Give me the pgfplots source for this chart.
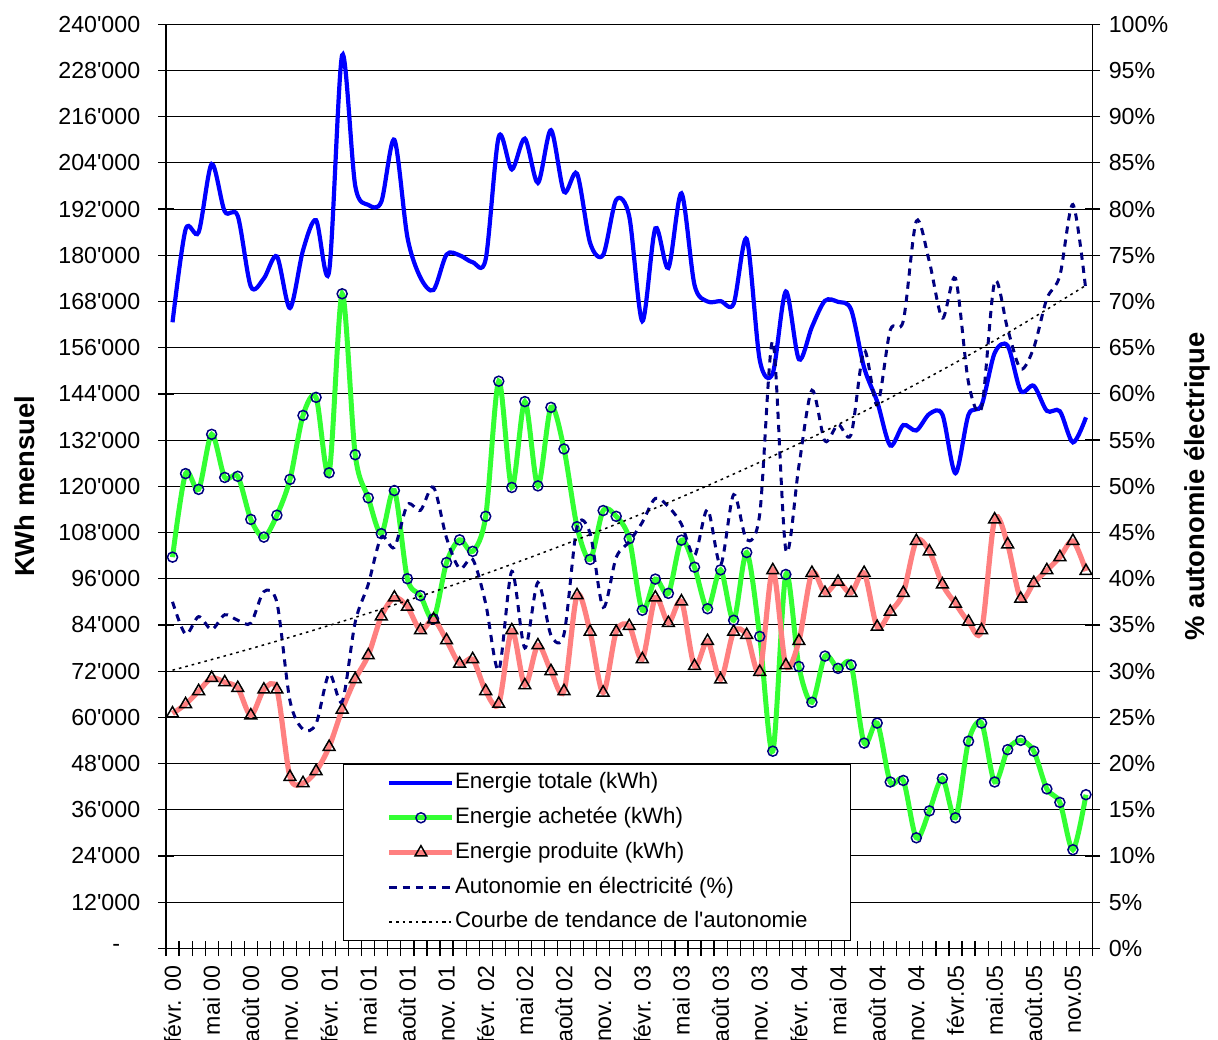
\documentclass[border=0pt]{standalone}
\usepackage{pgfplots}
\pgfplotsset{compat=1.18}
\usepackage{pgfplotstable}
\usepackage{fontspec}
\setmainfont{Liberation Sans}
\definecolor{cgreen}{RGB}{51,255,51}
\definecolor{cred}{RGB}{255,128,128}
\definecolor{cnavy}{RGB}{0,0,128}
\newcommand{\q}{\textquotesingle}

\pgfplotstableread{
t ach prod tot aut
0 101600 61000 162600 37.5
1 123300 63400 186700 34.0
2 119200 66800 186000 35.9
3 133500 70200 203700 34.5
4 122300 69100 191400 36.1
5 122600 67600 190200 35.5
6 111400 60500 171900 35.2
7 106800 67200 174000 38.6
8 112500 67200 179700 37.4
9 121800 44500 166300 26.8
10 138400 42900 181300 23.7
11 143100 46000 189100 24.3
12 123500 52300 175800 29.7
13 170000 62000 232000 26.7
14 128200 69900 198100 35.3
15 117000 76100 193100 39.4
16 107700 86200 193900 44.5
17 118900 91100 210000 43.4
18 96000 88700 184700 48.0
19 91600 82600 174200 47.4
20 85600 85400 171000 49.9
21 100200 80000 180200 44.4
22 106100 73900 180000 41.1
23 103100 75100 178200 42.1
24 112200 66800 179000 37.3
25 147300 63500 210800 30.1
26 119700 82600 202300 40.8
27 142000 68300 210300 32.5
28 120100 78700 198800 39.6
29 140500 72000 212500 33.9
30 129700 66800 196500 34.0
31 109500 91700 201200 45.6
32 101000 82200 183200 44.9
33 113700 66400 180100 36.9
34 112200 82200 194400 42.3
35 106400 83700 190100 44.0
36 87800 75100 162900 46.1
37 95900 91100 187000 48.7
38 92200 84500 176700 47.8
39 106000 90100 196100 45.9
40 99000 73300 172300 42.5
41 88200 79800 168000 47.5
42 98300 69800 168100 41.5
43 85200 82200 167400 49.1
44 102800 81400 184200 44.2
45 81000 71800 152800 47.0
46 51200 98200 149400 65.7
47 97100 73500 170600 43.1
48 73200 79800 153000 52.2
49 63900 97500 161400 60.4
50 75900 92300 168200 54.9
51 72700 95200 167900 56.7
52 73600 92300 165900 55.6
53 53300 97500 150800 64.7
54 58500 83500 142000 58.8
55 43200 87400 130600 66.9
56 43600 92300 135900 67.9
57 28700 105800 134500 78.7
58 35700 103100 138800 74.3
59 44100 94500 138600 68.2
60 33900 89500 123400 72.5
61 53800 84800 138600 61.2
62 58500 82600 141100 58.5
63 43200 111400 154600 72.1
64 51600 104900 156500 67.0
65 54000 90800 144800 62.7
66 51200 94900 146100 65.0
67 41400 98200 139600 70.3
68 37900 101600 139500 72.8
69 25600 105800 131400 80.5
70 39900 98000 137900 71.1
}\data

\pgfplotstableread{
t trend
0 30.10
5 32.03
10 34.08
15 36.26
20 38.58
25 41.05
30 43.68
35 46.47
40 49.45
45 52.61
50 55.98
55 59.57
60 63.38
65 67.43
70 71.75
}\trend

\begin{document}
\begin{tikzpicture}
\useasboundingbox (0,0) rectangle (609pt,519.5pt);
\clip (0,0) rectangle (609pt,519.5pt);
\pgfplotsset{
  base/.style={
    at={(83pt,45.35pt)}, anchor=south west,
    scale only axis, width=463.25pt, height=462pt,
    xmin=-0.5, xmax=70.5,
    tick align=center,
    major tick length=7.7pt,
    tick style={black, line width=0.6pt},
    axis line style={black, line width=0.7pt, -},
    ticklabel style={font=\fontsize{11.6}{13}\selectfont},
    legend image code/.code={\draw[mark repeat=2,mark phase=2] plot coordinates {(0pt,0pt)(15.75pt,0pt)(31.5pt,0pt)};},
  }
}
\begin{axis}[base,
  axis x line*=bottom, axis y line*=left,
  ymin=0, ymax=240000,
  ytick={0,12000,...,240000},
  yticklabels={{-\kern10pt},12\q000,24\q000,36\q000,48\q000,60\q000,72\q000,84\q000,96\q000,108\q000,120\q000,132\q000,144\q000,156\q000,168\q000,180\q000,192\q000,204\q000,216\q000,228\q000,240\q000},
  yticklabel style={anchor=east, inner sep=0pt, xshift=-8.85pt},
  ymajorgrids, grid style={black, line width=0.55pt},
  xtick={-0.5,0.5,...,70.5},
  xticklabel=\empty,
  extra x ticks={0,3,...,69},
  extra x tick labels={févr. 00,mai 00,août 00,nov. 00,févr. 01,mai 01,août 01,nov. 01,févr. 02,mai 02,août 02,nov. 02,févr. 03,mai 03,août 03,nov. 03,févr. 04,mai 04,août 04,nov. 04,févr.05,mai.05,août.05,nov.05},
  extra x tick style={major tick length=0pt},
  xticklabel style={rotate=90, anchor=east, inner sep=0pt, xshift=-8.35pt},
  ylabel={\bfseries KWh mensuel},
  ylabel style={at={([xshift=-70.5pt]axis description cs:0,0.5)}, anchor=center, font=\fontsize{13.7}{16}\selectfont},
]
\addplot[blue, line width=2.1pt, smooth, no markers] table[x=t,y=tot]{\data};
\addplot[cgreen, line width=2.5pt, smooth, mark=o, mark size=2.5pt, mark options={draw=cnavy, line width=0.75pt, solid}] table[x=t,y=ach]{\data};
\addplot[cred, line width=2.6pt, smooth, mark=triangle, mark size=3.4pt, mark options={draw=black, line width=0.75pt, solid}] table[x=t,y=prod]{\data};
\end{axis}

\begin{axis}[base,
  axis x line=none, axis y line*=right,
  ymin=0, ymax=100,
  ytick={0,5,...,100},
  yticklabels={0\%,5\%,10\%,15\%,20\%,25\%,30\%,35\%,40\%,45\%,50\%,55\%,60\%,65\%,70\%,75\%,80\%,85\%,90\%,95\%,100\%},
  yticklabel style={anchor=west, inner sep=0pt, xshift=4.1pt},
  ylabel={\bfseries\% autonomie électrique},
  ylabel style={at={([xshift=52.25pt]axis description cs:1,0.5)}, anchor=center, font=\fontsize{13.7}{16}\selectfont},
  legend cell align=left,
  legend style={at={(0.1914,0.0079)}, anchor=south west, draw=black, line width=0.5pt, fill=white,
    inner xsep=21.5pt, inner ysep=4pt, row sep=6.75pt,
    font=\fontsize{11.15}{13}\selectfont,
    nodes={inner sep=0pt, text height=8.2pt, text depth=2.4pt},
    /tikz/every odd column/.style={column sep=0pt}},
]
\addlegendimage{blue, line width=2.1pt}
\addlegendentry{Energie totale (kWh)}
\addlegendimage{cgreen, line width=2.5pt, mark=o, mark size=2.5pt, mark options={draw=cnavy, line width=0.75pt, solid}}
\addlegendentry{Energie achetée (kWh)}
\addlegendimage{cred, line width=2.6pt, mark=triangle, mark size=3.4pt, mark options={draw=black, line width=0.75pt, solid}}
\addlegendentry{Energie produite (kWh)}
\addplot[cnavy, line width=1.5pt, dash pattern=on 3.6pt off 3pt, smooth, no markers] table[x=t,y=aut]{\data};
\addlegendentry{Autonomie en électricité (\%)}
\addplot[black, line width=0.75pt, dash pattern=on 1.3pt off 2pt, smooth, no markers] table[x=t,y=trend]{\trend};
\addlegendentry{Courbe de tendance de l\q autonomie}
\end{axis}
\end{tikzpicture}
\end{document}
